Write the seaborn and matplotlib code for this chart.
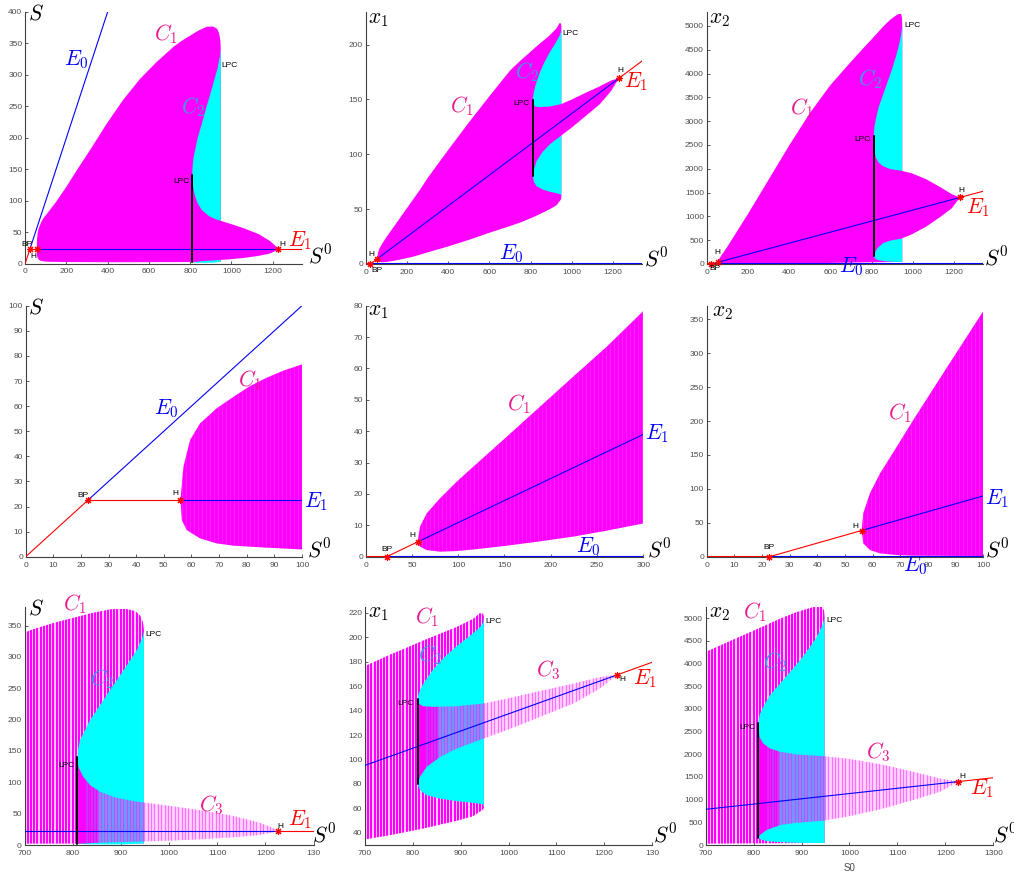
import numpy as np
import matplotlib
matplotlib.use("Agg")
import matplotlib.pyplot as plt
from matplotlib.patches import Rectangle
import seaborn as sns

# ---------------------------------------------------------------- data
# special points on the S0 axis
s0_bp = 22.7
s0_h1 = 56.0
s0_h2 = 1227.0
s0_lpc = 810.0

# equilibrium branches: break points along S0 and values
e0_s0 = [0.0, 22.7, 1340.0]
e0_S = [0.0, 22.7, 1340.0]
e0_x = [0.0, 0.0, 0.0]
e1_s0 = [22.7, 56.0, 1227.0, 1340.0]
e1_S = [22.7, 22.7, 22.7, 22.7]
e1_x1 = [0.0, 4.7, 169.2, 185.1]
e1_x2 = [0.0, 38.6, 1397.0, 1528.0]

# extent of the LPC cycle at S0 = 810
lpc_S = [2.0, 140.0]
lpc_x1 = [80.3, 149.7]
lpc_x2 = [161.0, 2698.0]

# ---- periodic-orbit envelopes (max / min over one period), variable S
c1_S_up_s0 = [56, 57.1, 59.5, 63.1, 69.1, 75.2, 81.2, 87.2, 93.2, 100, 150, 200, 250, 314,
              395, 475, 556, 637, 718, 760, 800, 840, 880, 910, 930, 940, 946, 948]
c1_S_up = [22.7, 35.9, 46.5, 53.1, 59.1, 63.7, 68.0, 71.3, 74.1, 76.6, 98, 122, 148, 180,
           222, 260, 293, 320, 344, 354, 362, 370, 376, 376.5, 373, 366, 355, 342]
c1_S_lo_s0 = [56, 56.5, 58.3, 63.1, 69.1, 75.2, 87.2, 100, 200, 400, 600, 800, 948]
c1_S_lo = [22.7, 14.6, 10.6, 7.3, 5.3, 4.4, 3.6, 2.9, 2.3, 2.0, 2.1, 2.3, 2.5]
c2_S_up_s0 = [810, 811, 815, 822, 835.8, 849.6, 863.5, 877, 891, 905, 918.8, 932.6, 945, 948]
c2_S_up = [140, 151, 167, 177.6, 198.8, 214.7, 230.6, 246.6, 262, 278, 294, 310, 331, 342]
c2_S_lo_s0 = [810, 830, 870, 910, 948]
c2_S_lo = [2.0, 1.2, 1.0, 1.2, 2.5]
c3_S_up_s0 = [810, 811.7, 822, 836, 856.6, 891, 925.8, 946.5, 1000, 1064, 1133, 1188, 1210, 1227]
c3_S_up = [140, 124.6, 108.7, 95.4, 84.8, 75.3, 70.0, 67.9, 62.5, 55.5, 46.5, 35.5, 29.0, 22.7]
c3_S_lo_s0 = [810, 856.6, 1000, 1064, 1133, 1188, 1220, 1227]
c3_S_lo = [2.0, 3.7, 6.9, 9.0, 12.2, 16.0, 21.0, 22.7]

# ---- variable x1
c1_x1_up_s0 = [56, 58.7, 65.9, 80.3, 98.3, 116.3, 152.3, 188.3, 224.3, 260.4, 300, 400, 500,
               600, 700, 752, 787, 822, 857, 891, 926, 940, 947, 948.6]
c1_x1_up = [4.7, 9.6, 13.8, 18.6, 23.9, 28.7, 38.2, 47.8, 57.4, 66.9, 78.3, 104, 129,
            153, 176.4, 185.7, 191.4, 197.4, 202.9, 208.3, 215.0, 219.7, 219.2, 216.5]
c1_x1_lo_s0 = [56, 58.7, 65.9, 80.3, 98.3, 116.3, 152.3, 188.3, 224.3, 260.4, 300, 400, 500,
               600, 700, 752, 822, 891, 926, 947, 948.6]
c1_x1_lo = [4.7, 3.2, 2.1, 1.6, 1.8, 2.3, 3.5, 4.9, 6.4, 8.3, 10.6, 16, 22,
            28.5, 34.6, 38.0, 43.5, 49.8, 53.6, 59.0, 60.7]
c2_x1_up_s0 = [810, 811.4, 814.9, 822, 843, 864, 891, 919, 940, 947, 948.6]
c2_x1_up = [149.7, 152.5, 156.6, 162, 174, 183, 192.5, 201, 208, 212, 216.5]
c2_x1_lo_s0 = [810, 814.9, 828.8, 856.7, 891.5, 926, 947, 948.6]
c2_x1_lo = [80.3, 74.9, 70.8, 68.0, 65.9, 64.5, 63.4, 60.7]
c3_x1_up_s0 = [810, 811.4, 821.9, 842.8, 891.5, 947, 996, 1065.6, 1135.2, 1190.9, 1227]
c3_x1_up = [149.7, 145.7, 143.5, 143.0, 143.5, 145.7, 149.7, 156.0, 162.0, 167.4, 169.2]
c3_x1_lo_s0 = [810, 814.9, 828.8, 856.7, 891.5, 947, 996, 1065.6, 1135.2, 1190.9, 1227]
c3_x1_lo = [80.3, 85.8, 94.0, 102.0, 108.9, 117.0, 123.9, 134.8, 145.7, 158.0, 169.2]

# ---- variable x2
c1_x2_up_s0 = [56, 56.6, 59, 62.7, 68.7, 74.7, 86.7, 100, 200, 300, 400, 500, 600, 700,
               750.8, 785.5, 820, 855, 889.8, 924.6, 942, 946.8, 948]
c1_x2_up = [38.6, 63.9, 93.4, 123, 162, 201.6, 278, 362, 1050, 1770, 2490, 3170, 3760, 4252,
            4494, 4655, 4817, 4985, 5132, 5242, 5257, 5169, 5022]
c1_x2_lo_s0 = [56, 56.6, 59, 62.7, 68.7, 74.7, 100, 300, 500, 700, 948]
c1_x2_lo = [38.6, 19.7, 9.8, 4.9, 2.5, 1.5, 1.0, 5, 15, 30, 45]
c2_x2_up_s0 = [810, 813, 820, 834, 855, 876, 896.8, 917.6, 931.5, 942, 946.8, 948]
c2_x2_up = [2698, 2880, 3043, 3299, 3556, 3812, 4069, 4362, 4582, 4802, 4949, 5022]
c2_x2_lo_s0 = [810, 815, 830, 870, 910, 948]
c2_x2_lo = [161, 120, 80, 55, 45, 45]
c3_x2_up_s0 = [810, 812, 820, 834, 855, 889.8, 945, 994, 1063.6, 1133, 1188.8, 1227]
c3_x2_up = [2698, 2383, 2236, 2126, 2053, 1994, 1957, 1906, 1782, 1613, 1466, 1397]
c3_x2_lo_s0 = [810, 813, 827, 855, 889.8, 945, 994, 1063.6, 1133, 1188.8, 1227]
c3_x2_lo = [161, 220, 330, 440, 491, 535, 623, 784, 990, 1173, 1397]

envelopes = {
    'S': {'C1': (c1_S_up_s0, c1_S_up, c1_S_lo_s0, c1_S_lo),
          'C2': (c2_S_up_s0, c2_S_up, c2_S_lo_s0, c2_S_lo),
          'C3': (c3_S_up_s0, c3_S_up, c3_S_lo_s0, c3_S_lo)},
    'x1': {'C1': (c1_x1_up_s0, c1_x1_up, c1_x1_lo_s0, c1_x1_lo),
           'C2': (c2_x1_up_s0, c2_x1_up, c2_x1_lo_s0, c2_x1_lo),
           'C3': (c3_x1_up_s0, c3_x1_up, c3_x1_lo_s0, c3_x1_lo)},
    'x2': {'C1': (c1_x2_up_s0, c1_x2_up, c1_x2_lo_s0, c1_x2_lo),
           'C2': (c2_x2_up_s0, c2_x2_up, c2_x2_lo_s0, c2_x2_lo),
           'C3': (c3_x2_up_s0, c3_x2_up, c3_x2_lo_s0, c3_x2_lo)},
}
equilibria = {'S': (e0_S, e1_S, lpc_S), 'x1': (e0_x, e1_x1, lpc_x1), 'x2': (e0_x, e1_x2, lpc_x2)}

# ---------------------------------------------------------------- style
sns.set_style("ticks")
plt.rcParams['font.family'] = ['Liberation Sans', 'DejaVu Sans']
plt.rcParams['mathtext.fontset'] = 'cm'

MAG = '#ff00ff'
CYAN = '#00ffff'
PINK = '#e8198c'
LBLUE = '#3d9de0'
BLUE = '#0000ff'
RED = '#ff0000'
AXC = '#404040'
TXC = '#4d4d4d'

W, H = 1014, 875
fig = plt.figure(figsize=(W / 100, H / 100), dpi=100)


def box(l, r, t, b):
    return [l / W, 1 - b / H, (r - l) / W, (b - t) / H]


top_x = list(range(0, 1201, 200))
bot_x = list(range(700, 1301, 100))

panels = [
    dict(var='S', row=0, box=(25.2, 301.6, 11.7, 263.5), xlim=(0, 1340), ylim=(0, 400),
         xt=top_x, yt=list(range(0, 401, 50)), ylab=('$S$', 0.011, 0.99), xlab=(1.024, 0.03),
         big=[('$E_0$', 246, 324, BLUE), ('$C_1$', 681, 364, PINK), ('$C_2$', 815, 249, LBLUE),
              ('$E_1$', 1332, 36, RED)],
         small=[('LPC', 952, 315, 'left'), ('LPC', 799, 130, 'right'), ('BP', 7, 30.7, 'center'),
                ('H', 39, 11.6, 'center'), ('H', 1245, 30, 'center')]),
    dict(var='x1', row=0, box=(365.7, 642.1, 11.7, 264), xlim=(0, 1340), ylim=(0, 230),
         xt=top_x, yt=list(range(0, 201, 50)), ylab=('$x_1$', 0.009, 0.975), xlab=(1.007, 0.02),
         big=[('$E_0$', 707, 9.7, BLUE), ('$C_1$', 465, 143.8, PINK), ('$C_2$', 780, 175, LBLUE),
              ('$E_1$', 1313, 166, RED)],
         small=[('LPC', 955, 210, 'left'), ('LPC', 793, 146.3, 'right'), ('H', 29, 9.1, 'center'),
                ('BP', 53, -5.5, 'center'), ('H', 1236, 176.6, 'center')]),
    dict(var='x2', row=0, box=(706.7, 983.1, 11.7, 264), xlim=(0, 1340), ylim=(0, 5300),
         xt=top_x, yt=list(range(0, 5001, 500)), ylab=('$x_2$', 0.009, 0.975), xlab=(1.003, 0.025),
         big=[('$E_0$', 703, -57, BLUE), ('$C_1$', 460, 3280, PINK), ('$C_2$', 792, 3877, LBLUE),
              ('$E_1$', 1317, 1173, RED)],
         small=[('LPC', 956, 5000, 'left'), ('LPC', 793, 2613, 'right'), ('H', 51, 246, 'center'),
                ('BP', 40, -91, 'center'), ('H', 1237, 1538, 'center')]),
    dict(var='S', row=1, box=(25.7, 302, 305.7, 556.7), xlim=(0, 100), ylim=(0, 100),
         xt=list(range(0, 101, 10)), yt=list(range(0, 101, 10)), ylab=('$S$', 0.009, 0.99),
         xlab=(1.019, 0.025),
         big=[('$E_0$', 51, 59.1, BLUE), ('$C_1$', 81.2, 70.4, PINK), ('$E_1$', 105, 21.9, BLUE)],
         small=[('BP', 20.6, 24.2, 'center'), ('H', 54.3, 25.2, 'center')]),
    dict(var='x1', row=1, box=(365.7, 643.3, 305.7, 556.7), xlim=(0, 300), ylim=(0, 80),
         xt=list(range(0, 301, 50)), yt=list(range(0, 81, 10)), ylab=('$x_1$', 0.009, 0.98),
         xlab=(1.014, 0.025),
         big=[('$E_0$', 240.5, 3.2, BLUE), ('$C_1$', 165, 48.7, PINK), ('$E_1$', 314.4, 39.1, BLUE)],
         small=[('BP', 22.7, 2.4, 'center'), ('H', 50.4, 6.6, 'center')]),
    dict(var='x2', row=1, box=(706.7, 983.3, 305.7, 556.7), xlim=(0, 100), ylim=(0, 370),
         xt=list(range(0, 101, 10)), yt=list(range(0, 351, 50)), ylab=('$x_2$', 0.018, 0.975),
         xlab=(1.006, 0.028),
         big=[('$E_0$', 75.3, -13.8, BLUE), ('$C_1$', 69.9, 211.4, PINK), ('$E_1$', 104.8, 86, BLUE)],
         small=[('BP', 22.7, 13.3, 'center'), ('H', 53.7, 45.2, 'center')]),
    dict(var='S', row=2, box=(24.5, 313.5, 606.7, 845), xlim=(700, 1300), ylim=(0, 380),
         xt=bot_x, yt=list(range(0, 351, 50)), ylab=('$S$', 0.013, 0.99), xlab=(0.996, 0.04),
         big=[('$C_1$', 805, 384.4, PINK), ('$C_2$', 860, 265, LBLUE), ('$C_3$', 1088, 63.6, PINK),
              ('$E_1$', 1271.5, 39.8, RED)],
         small=[('LPC', 951.4, 335, 'left'), ('LPC', 804.8, 127.3, 'right'), ('H', 1232, 30, 'center')],
         trunc=True),
    dict(var='x1', row=2, box=(365, 652, 606.7, 845), xlim=(700, 1300), ylim=(30, 225),
         xt=bot_x, yt=list(range(40, 221, 20)), ylab=('$x_1$', 0.012, 0.975), xlab=(1.005, 0.04),
         big=[('$C_1$', 828.8, 216.5, PINK), ('$C_2$', 835.8, 185, LBLUE), ('$C_3$', 1083, 172.9, PINK),
              ('$E_1$', 1285, 166, RED)],
         small=[('LPC', 950.7, 213.2, 'left'), ('LPC', 802.4, 145.7, 'right'), ('H', 1238, 165.5, 'center')],
         trunc=True),
    dict(var='x2', row=2, box=(705.7, 993.3, 606.7, 845), xlim=(700, 1300), ylim=(0, 5250),
         xt=bot_x, yt=list(range(0, 5001, 500)), ylab=('$x_2$', 0.0125, 0.975), xlab=(1.0, 0.04),
         big=[('$C_1$', 802.9, 5132, PINK), ('$C_2$', 844.6, 4032, LBLUE), ('$C_3$', 1060, 2053, PINK),
              ('$E_1$', 1275.7, 1246, RED)],
         small=[('LPC', 952.4, 4949, 'left'), ('LPC', 805, 2581, 'right'), ('H', 1236, 1518, 'center')],
         xname='S0'),
]

# texture of the C3 family in the zoomed row:
# (S0 from, S0 to, base colour, stripe colour, stripe spacing px, stripe width px)
c3_bands = [
    (810, 826, MAG, None, None, None),
    (826, 852, '#c23cff', MAG, 2.6, 1.3),
    (852, 948.6, '#6a9cff', '#c84cff', 3.2, 1.2),
    (948.6, 1240, '#ffd8ff', '#ff6eff', 3.4, 1.3),
]


def envelope(ax, curve, z=1.0, **kw):
    up_s0, up, lo_s0, lo = curve
    xs = list(up_s0) + list(lo_s0)[::-1]
    ys = list(up) + list(lo)[::-1]
    return ax.fill(xs, ys, linewidth=0, zorder=z, **kw)[0]


def stripes(ax, shape, x0, x1, step_px, width_px, color, width_ax_px, z):
    # evenly spaced vertical strokes, trimmed to the envelope outline
    xmin, xmax = ax.get_xlim()
    per_px = (xmax - xmin) / width_ax_px
    xs = np.arange(max(x0, xmin), min(x1, xmax), step_px * per_px)
    y0, y1 = ax.get_ylim()
    lc = ax.vlines(xs, y0, y1, colors=color, linewidth=width_px * 0.72, zorder=z)
    lc.set_clip_path(shape)
    return lc


def band_clip(ax, patch, x0, x1):
    y0, y1 = ax.get_ylim()
    patch.set_clip_path(Rectangle((x0, y0), x1 - x0, y1 - y0, transform=ax.transData))


def segments(ax, xs, ys, colors, lw):
    for i, col in enumerate(colors):
        sns.lineplot(x=[xs[i], xs[i + 1]], y=[ys[i], ys[i + 1]], ax=ax, color=col, lw=lw,
                     sort=False, estimator=None, legend=False, zorder=3)


for p in panels:
    ax = fig.add_axes(box(*p['box']))
    ax.set_xlim(*p['xlim'])
    ax.set_ylim(*p['ylim'])
    wpx = p['box'][1] - p['box'][0]
    env = envelopes[p['var']]
    e0, e1, lpc = equilibria[p['var']]
    row = p['row']

    # periodic-orbit families
    if row == 0:
        envelope(ax, env['C1'], color=MAG)
        envelope(ax, env['C2'], color=CYAN)
        envelope(ax, env['C3'], color=MAG)
    elif row == 1:
        c1 = envelope(ax, env['C1'], color=MAG)
        stripes(ax, c1, p['xlim'][0], p['xlim'][1], 4.0, 0.5, '#ff3dff', wpx, 1.05)
    else:
        c1 = envelope(ax, env['C1'], color='#ffc8ff')
        stripes(ax, c1, p['xlim'][0], 960, 3.2, 2.0, MAG, wpx, 1.1)
        envelope(ax, env['C2'], color=CYAN, z=1.2)
        c3_shape = envelope(ax, env['C3'], color=MAG, z=1.3)
        c3_shape.set_visible(False)
        for x0, x1, base, line_col, step, width in c3_bands:
            base_fill = envelope(ax, env['C3'], color=base, z=1.3)
            band_clip(ax, base_fill, x0, x1)
            if line_col is not None:
                stripes(ax, c3_shape, x0, x1, step, width, line_col, wpx, 1.4)

    # equilibrium branches
    if row != 2:
        lw0 = 0.8 if p['var'] == 'S' else 1.5
        segments(ax, e0_s0, e0, [RED, BLUE], lw0)
    segments(ax, e1_s0, e1, [RED, BLUE, RED], 0.8)

    # limit point of cycles
    if row != 1:
        sns.lineplot(x=[s0_lpc, s0_lpc], y=lpc, ax=ax, color='black', lw=1.4, sort=False,
                     estimator=None, legend=False, zorder=4)

    # BP and Hopf points
    pts = [(s0_bp, e1[0]), (s0_h1, e1[1]), (s0_h2, e1[2])]
    for x, y in pts:
        if p['xlim'][0] <= x <= p['xlim'][1] and p['ylim'][0] <= y <= p['ylim'][1]:
            ax.plot([x], [y], linestyle='none', marker=(8, 2, 0), ms=5, mew=0.8, color=RED,
                    clip_on=False, zorder=5)

    # labels
    for txt, x, y, col in p['big']:
        ax.text(x, y, txt, color=col, fontsize=15.5, ha='center', va='center', zorder=6)
    for txt, x, y, ha in p['small']:
        ax.text(x, y, txt, color='black', fontsize=6, ha=ha, va='center', zorder=6)
    lab, lx, ly = p['ylab']
    ax.text(lx, ly, lab, transform=ax.transAxes, fontsize=15.5, color='black', ha='left', va='center')
    ax.text(p['xlab'][0], p['xlab'][1], '$S^0$', transform=ax.transAxes, fontsize=15.5,
            color='black', ha='left', va='center')
    if 'xname' in p:
        ax.text(0.5, -0.095, p['xname'], transform=ax.transAxes, fontsize=7, color=TXC,
                ha='center', va='center')

    # axes decoration
    ax.set_xticks(p['xt'])
    xl = [str(v) for v in p['xt']]
    if p.get('trunc'):
        xl[-1] = xl[-1][:3]
    ax.set_xticklabels(xl)
    ax.set_yticks(p['yt'])
    ax.set_yticklabels([str(v) for v in p['yt']])
    ax.set_xlabel('')
    ax.set_ylabel('')
    sns.despine(ax=ax)
    for side in ('left', 'bottom'):
        ax.spines[side].set_color(AXC)
        ax.spines[side].set_linewidth(0.8)
    ax.tick_params(direction='in', length=2.5, width=0.6, color=AXC, labelsize=6,
                   labelcolor=TXC)
    ax.tick_params(axis='x', pad=3.5)
    ax.tick_params(axis='y', pad=2)
    ax.patch.set_alpha(0)

fig.savefig('out.png', dpi=100)
